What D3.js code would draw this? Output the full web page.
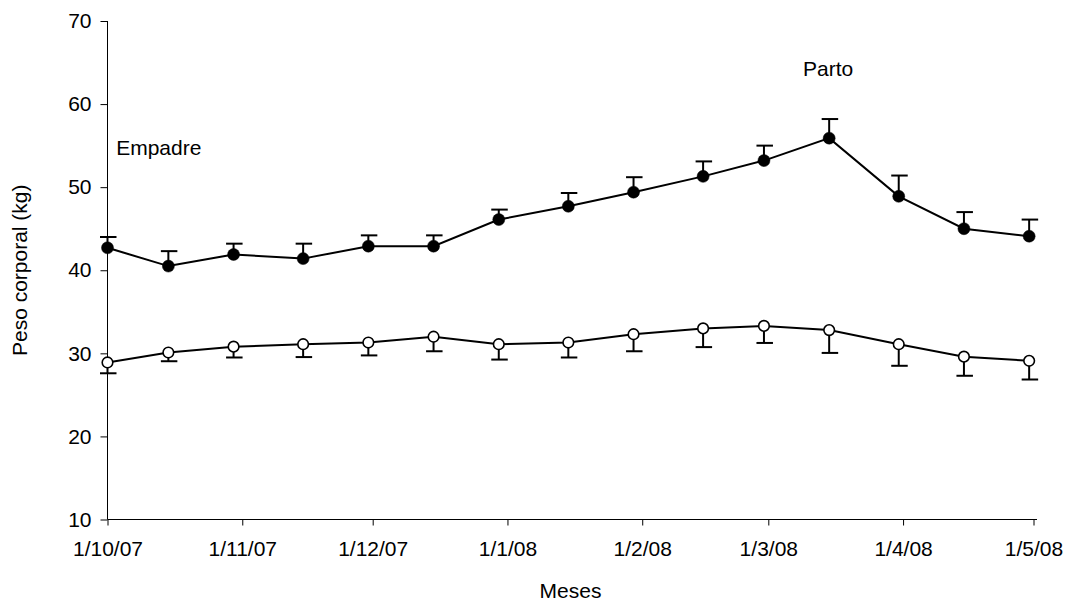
<!DOCTYPE html>
<html>
<head>
<meta charset="utf-8">
<script src="https://cdn.jsdelivr.net/npm/d3@7"></script>
<style>
  html, body { margin: 0; padding: 0; background: #fff; }
  svg { display: block; font-family: "Liberation Sans", Arial, sans-serif; }
</style>
</head>
<body>
<svg id="chart" width="1070" height="602"></svg>
<script>
// ---- data ----
const dates = ["2007-10-01","2007-10-15","2007-10-30","2007-11-15","2007-11-30","2007-12-15","2007-12-30",
               "2008-01-15","2008-01-30","2008-02-15","2008-02-29","2008-03-15","2008-03-31","2008-04-15","2008-04-30"];
const filledMean = [42.7, 40.5, 41.9, 41.4, 42.9, 42.9, 46.1, 47.7, 49.4, 51.3, 53.2, 55.9, 48.9, 45.0, 44.1];
const filledErr  = [1.3, 1.8, 1.3, 1.8, 1.3, 1.3, 1.2, 1.6, 1.8, 1.8, 1.8, 2.3, 2.5, 2.0, 2.0];
const openMean   = [28.9, 30.1, 30.8, 31.1, 31.3, 32.0, 31.1, 31.3, 32.3, 33.0, 33.3, 32.8, 31.1, 29.6, 29.1];
const openErr    = [1.3, 1.05, 1.3, 1.55, 1.55, 1.75, 1.85, 1.8, 2.05, 2.25, 2.05, 2.75, 2.6, 2.3, 2.25];
const xTickDates = ["2007-10-01","2007-11-01","2007-12-01","2008-01-01","2008-02-01","2008-03-01","2008-04-01","2008-05-01"];
const xTickLabels = ["1/10/07","1/11/07","1/12/07","1/1/08","1/2/08","1/3/08","1/4/08","1/5/08"];
const yTicks = [10, 20, 30, 40, 50, 60, 70];
const annotations = [
  {text: "Empadre", date: "2007-10-03", value: 53.9},
  {text: "Parto", date: "2008-03-09", value: 63.4}
];

// ---- layout ----
const svg = d3.select("#chart");
const mLeft = 107.5, mRight = 1033.5, mTop = 21, mBottom = 519.5;
const fs = 21;
const parse = d3.utcParse("%Y-%m-%d");

const x = d3.scaleUtc()
  .domain([parse(xTickDates[0]), parse(xTickDates[xTickDates.length - 1])])
  .range([mLeft, mRight]);
const y = d3.scaleLinear().domain([10, 70]).range([mBottom, mTop]);

// axes
const yAxis = d3.axisLeft(y).tickValues(yTicks).tickSize(7).tickSizeOuter(0).tickPadding(9);
const gy = svg.append("g").attr("transform", `translate(${mLeft},0)`).call(yAxis);
gy.select(".domain").remove();
gy.selectAll("line").attr("stroke", "#000").attr("stroke-width", 1);
gy.selectAll("text").attr("font-size", fs).attr("fill", "#000").attr("font-family", "Liberation Sans, Arial, sans-serif");
svg.append("line").attr("x1", mLeft).attr("x2", mLeft).attr("y1", mTop).attr("y2", mBottom)
  .attr("stroke", "#000").attr("stroke-width", 1);

const xAxis = d3.axisBottom(x).tickValues(xTickDates.map(parse))
  .tickFormat((d, i) => xTickLabels[i]).tickSize(6).tickSizeOuter(0).tickPadding(16);
const gx = svg.append("g").attr("transform", `translate(0,${mBottom})`).call(xAxis);
gx.select(".domain").remove();
gx.selectAll("line").attr("stroke", "#000").attr("stroke-width", 1);
gx.selectAll("text").attr("font-size", fs).attr("fill", "#000").attr("font-family", "Liberation Sans, Arial, sans-serif");
svg.append("line").attr("x1", mLeft).attr("x2", mRight + 3.5).attr("y1", mBottom).attr("y2", mBottom)
  .attr("stroke", "#000").attr("stroke-width", 1);

// axis titles
svg.append("text").attr("x", (mLeft + mRight) / 2).attr("y", 598)
  .attr("text-anchor", "middle").attr("font-size", fs).text("Meses");
svg.append("text").attr("transform", `translate(27,${(mTop + mBottom) / 2}) rotate(-90)`)
  .attr("text-anchor", "middle").attr("font-size", fs).text("Peso corporal (kg)");

// annotations
svg.selectAll("text.anno").data(annotations).enter().append("text")
  .attr("class", "anno")
  .attr("x", d => x(parse(d.date))).attr("y", d => y(d.value))
  .attr("font-size", fs).text(d => d.text);

// series
function drawSeries(means, errs, dir, filled) {
  const pts = dates.map((d, i) => ({x: x(parse(d)), m: means[i], e: errs[i]}));
  const g = svg.append("g");
  pts.forEach(p => {
    const yEnd = y(p.m + dir * p.e);
    g.append("line").attr("x1", p.x).attr("x2", p.x).attr("y1", y(p.m)).attr("y2", yEnd)
      .attr("stroke", "#000").attr("stroke-width", 2);
    g.append("line").attr("x1", p.x - 7.5).attr("x2", p.x + 9).attr("y1", yEnd).attr("y2", yEnd)
      .attr("stroke", "#000").attr("stroke-width", 2);
  });
  g.append("path").datum(pts)
    .attr("d", d3.line().x(p => p.x).y(p => y(p.m)))
    .attr("fill", "none").attr("stroke", "#000").attr("stroke-width", 2);
  g.selectAll("circle").data(pts).enter().append("circle")
    .attr("cx", p => p.x).attr("cy", p => y(p.m))
    .attr("r", filled ? 6 : 5.3)
    .attr("fill", filled ? "#000" : "#fff")
    .attr("stroke", "#000").attr("stroke-width", filled ? 0.5 : 1.6);
}
drawSeries(openMean, openErr, -1, false);
drawSeries(filledMean, filledErr, 1, true);
</script>
</body>
</html>
